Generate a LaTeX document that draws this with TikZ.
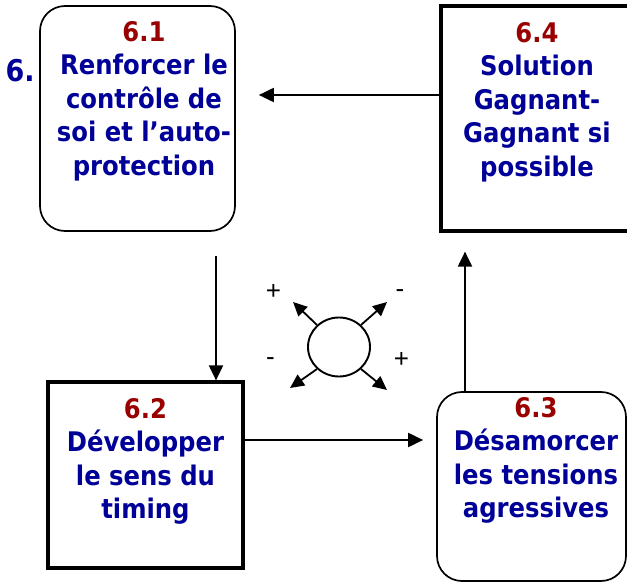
\documentclass[tikz,border=0pt]{standalone}
\usepackage{fontspec}
\setmainfont{DejaVu Sans Condensed}
\newfontfamily\signfont{Liberation Sans}
\usetikzlibrary{arrows.meta,shapes.geometric}
\definecolor{numred}{RGB}{153,0,0}
\definecolor{txtblue}{RGB}{0,0,153}

\begin{document}
\begin{tikzpicture}[x=1pt,y=1pt,
  roundbox/.style={draw, line width=1.7pt, rounded corners=25pt, inner sep=0},
  squarebox/.style={draw, line width=3.2pt, inner sep=0},
  boxtext/.style={anchor=north, inner sep=0, align=center, text=txtblue,
    font=\bfseries\fontsize{27}{33.5}\selectfont},
  sign/.style={anchor=base, inner sep=0, font=\signfont\fontsize{26}{26}\selectfont},
  arr/.style={line width=2pt, -{Triangle[length=15pt,width=14pt]}},
  darr/.style={line width=1.8pt, -{Triangle[length=14pt,width=13pt]}}]
\useasboundingbox (0,0) rectangle (627,582);

\node[roundbox, minimum width=195pt, minimum height=225pt] (b1) at (137.5,463.5) {};
\node[squarebox, minimum width=195pt, minimum height=186pt] (b2) at (145.5,107) {};
\node[roundbox, minimum width=189pt, minimum height=189pt] (b3) at (531.5,95.5) {};
\node[squarebox, minimum width=192pt, minimum height=225pt] (b4) at (537,463.5) {};

\node[boxtext] (t1) at (144,561) {{\color{numred}6.1}\\Renforcer le\\contrôle de\\soi et l’auto-\\protection};
\node[boxtext] (t2) at (145.5,184) {{\color{numred}6.2}\\Développer\\le sens du\\timing};
\node[boxtext] (t3) at (536,185) {{\color{numred}6.3}\\Désamorcer\\les tensions\\agressives};
\node[boxtext] (t4) at (537,560) {{\color{numred}6.4}\\Solution\\Gagnant-\\Gagnant si\\possible};

\node[anchor=base west, inner sep=0, text=txtblue, font=\bfseries\fontsize{30}{30}\selectfont] (num) at (5.5,500) {6.};

\coordinate (r1) at (216,0);
\coordinate (r2) at (0,142);
\coordinate (r3) at (465,0);
\coordinate (r4) at (0,487);

\draw[arr, shorten <=24pt] (b1.south -| r1) -- (b2.north -| r1);
\draw[arr, shorten >=13pt] (b2.east |- r2) -- (b3.west |- r2);
\draw[arr, shorten >=19pt] (b3.north -| r3) -- (b4.south -| r3);
\draw[arr, shorten >=23pt] (b4.west |- r4) -- (b1.east |- r4);

\node[ellipse, draw, line width=1.9pt, minimum width=62pt, minimum height=59pt, inner sep=0] (c) at (339,235) {};
\coordinate (nw) at (293,280);
\coordinate (ne) at (387,280);
\coordinate (sw) at (290,194);
\coordinate (se) at (387,192);
\draw[darr] (c.135) -- (nw);
\draw[darr] (c.45) -- (ne);
\draw[darr] (c.225) -- (sw);
\draw[darr] (c.315) -- (se);

\node[sign] (p1) at (273.5,282.5) {+};
\node[sign] (m1) at (400,284) {-};
\node[sign] (m2) at (270.5,216) {-};
\node[sign] (p2) at (401.5,214.5) {+};
\end{tikzpicture}
\end{document}
